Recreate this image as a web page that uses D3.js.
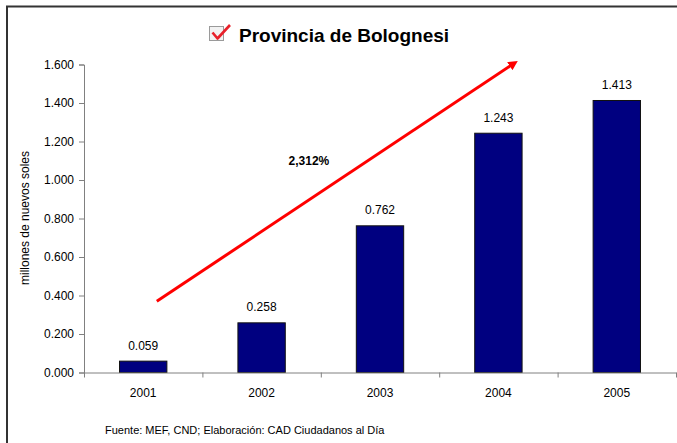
<!DOCTYPE html>
<html>
<head>
<meta charset="utf-8">
<script src="https://cdn.jsdelivr.net/npm/d3@7"></script>
<style>
  html, body { margin: 0; padding: 0; background: #fff; }
  svg { display: block; font-family: "Liberation Sans", Arial, sans-serif; }
</style>
</head>
<body>
<svg id="svg1" width="677" height="443"></svg>
<script>
// chart data
var years = ["2001", "2002", "2003", "2004", "2005"];
var values = [0.059, 0.258, 0.762, 1.243, 1.413];
var yTicks = [0, 0.2, 0.4, 0.6, 0.8, 1.0, 1.2, 1.4, 1.6];
var titleText = "Provincia de Bolognesi";
var yLabel = "millones de nuevos soles";
var growthLabel = "2,312%";
var sourceText = "Fuente: MEF, CND; Elaboración: CAD Ciudadanos al Día";

var svg = d3.select("#svg1");
var plotLeft = 84, plotRight = 676, plotTop = 64.5, plotBottom = 372.5;

var x = d3.scaleBand().domain(years).range([plotLeft, plotRight]).paddingInner(0.6).paddingOuter(0.3);
var xb = d3.scaleLinear().domain([0, years.length]).range([plotLeft, plotRight]);
var y = d3.scaleLinear().domain([0, 1.6]).range([plotBottom, plotTop]);
var fmt = d3.format(".3f");

// frame (only top and left edges visible)
svg.append("path")
    .attr("d", "M7,443 V6.5 H677")
    .attr("fill", "none")
    .attr("stroke", "#333")
    .attr("stroke-width", 2);

// title with check box icon
var icon = svg.append("g");
icon.append("rect")
    .attr("x", 209.5).attr("y", 26.5).attr("width", 14).attr("height", 14)
    .attr("fill", "#f2f2f2").attr("stroke", "#9a9a9a").attr("stroke-width", 1);
icon.append("path")
    .attr("d", "M212.5,32.5 L217.5,38.5 L230,25")
    .attr("fill", "none").attr("stroke", "#e8202a").attr("stroke-width", 2.6)
    .attr("stroke-linejoin", "round");
svg.append("text")
    .attr("x", 239).attr("y", 42)
    .attr("font-size", 19).attr("font-weight", "bold").attr("fill", "#000")
    .text(titleText);

// bars
svg.selectAll(".bar").data(values).enter().append("rect")
    .attr("class", "bar")
    .attr("x", function(d, i){ return x(years[i]); })
    .attr("y", function(d){ return y(d); })
    .attr("width", x.bandwidth())
    .attr("height", function(d){ return y(0) - y(d); })
    .attr("fill", "#000080")
    .attr("stroke", "#111")
    .attr("stroke-width", 1);

svg.selectAll(".val").data(values).enter().append("text")
    .attr("class", "val")
    .attr("x", function(d, i){ return x(years[i]) + x.bandwidth()/2; })
    .attr("y", function(d){ return y(d) - 11.5; })
    .attr("text-anchor", "middle")
    .attr("font-size", 12)
    .text(function(d){ return fmt(d); });

// y axis
var gy = svg.append("g")
    .attr("transform", "translate(" + plotLeft + ",0)")
    .call(d3.axisLeft(y).tickValues(yTicks).tickSize(5).tickPadding(5).tickFormat(fmt));
gy.select(".domain").attr("stroke", "#808080");
gy.selectAll(".tick line").attr("stroke", "#808080");
gy.selectAll(".tick text").attr("font-size", 12).attr("fill", "#000")
    .attr("font-family", "Liberation Sans, Arial, sans-serif");

// x axis: ticks between categories
var gx = svg.append("g")
    .attr("transform", "translate(0," + plotBottom + ")")
    .call(d3.axisBottom(xb).tickValues(d3.range(years.length + 1)).tickSize(5).tickSizeOuter(0).tickFormat(""));
gx.select(".domain").attr("stroke", "#808080");
gx.selectAll(".tick line").attr("stroke", "#808080");

svg.selectAll(".yr").data(years).enter().append("text")
    .attr("class", "yr")
    .attr("x", function(d){ return x(d) + x.bandwidth()/2; })
    .attr("y", 397)
    .attr("text-anchor", "middle")
    .attr("font-size", 12)
    .text(function(d){ return d; });

// y axis title
svg.append("text")
    .attr("transform", "translate(29,218) rotate(-90)")
    .attr("text-anchor", "middle")
    .attr("font-size", 12)
    .text(yLabel);

// growth arrow
svg.append("defs").append("marker")
    .attr("id", "head")
    .attr("viewBox", "0 0 10 10")
    .attr("refX", 5).attr("refY", 5)
    .attr("markerWidth", 3.2).attr("markerHeight", 3.2)
    .attr("orient", "auto")
    .append("path").attr("d", "M0,0 L10,5 L0,10 Z").attr("fill", "#ff0000");

svg.append("line")
    .attr("x1", xb(0.615)).attr("y1", y(0.37))
    .attr("x2", xb(3.63)).attr("y2", y(1.605))
    .attr("stroke", "#ff0000").attr("stroke-width", 3)
    .attr("marker-end", "url(#head)");

svg.append("text")
    .attr("x", xb(1.9)).attr("y", y(1.08))
    .attr("text-anchor", "middle")
    .attr("font-size", 12).attr("font-weight", "bold")
    .text(growthLabel);

// source
svg.append("text")
    .attr("x", 105).attr("y", 434)
    .attr("font-size", 11)
    .text(sourceText);
</script>
</body>
</html>
